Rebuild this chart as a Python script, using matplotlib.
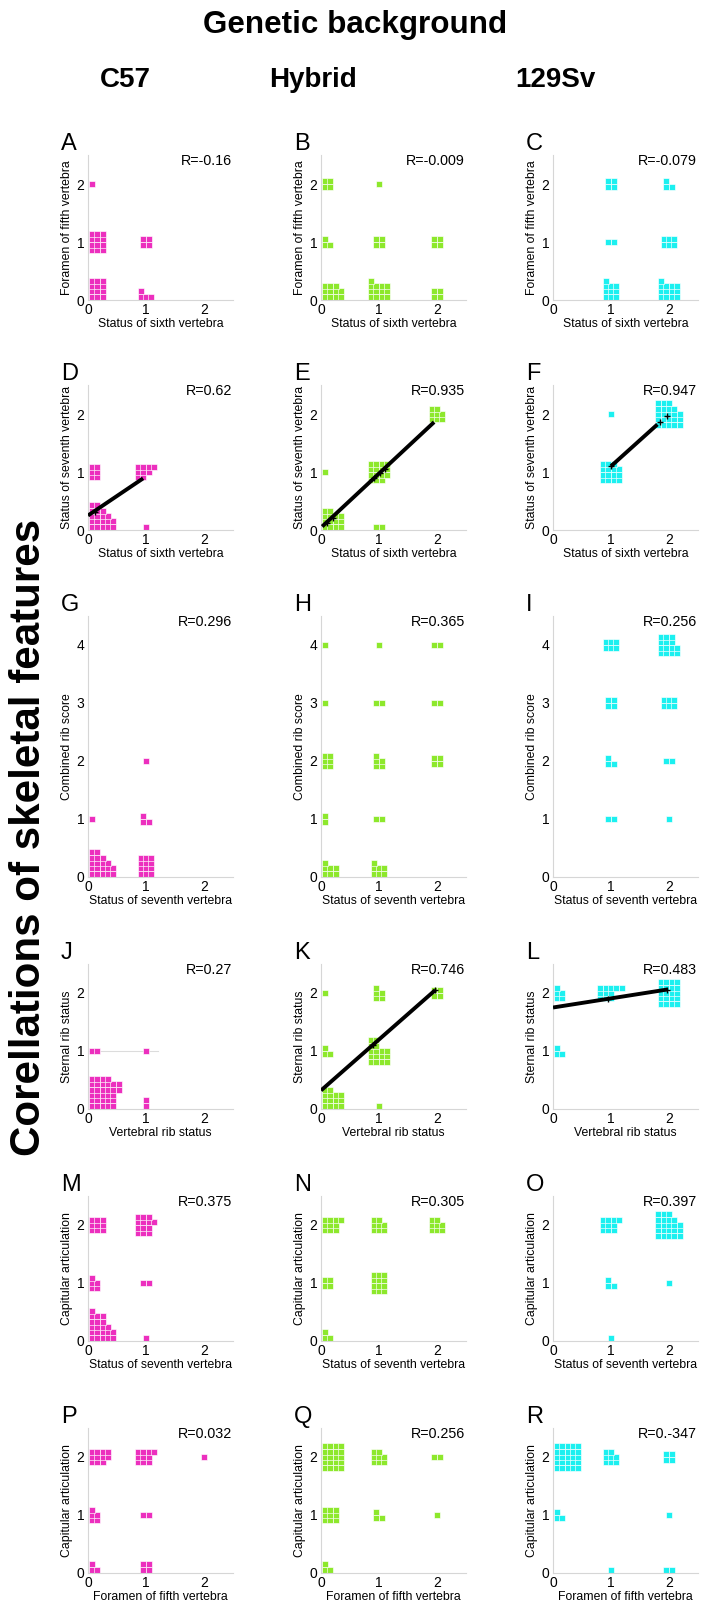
import matplotlib
matplotlib.use('Agg')
import matplotlib.pyplot as plt
from matplotlib import font_manager as fm


def has_font(name):
    try:
        fm.findfont(fm.FontProperties(family=name), fallback_to_default=False)
        return True
    except Exception:
        return False


if has_font('Liberation Sans Narrow'):
    FONT, K = 'Liberation Sans Narrow', 1.0
else:
    FONT, K = 'Liberation Sans', 0.82
plt.rcParams['font.family'] = [FONT, 'DejaVu Sans']

# ---------------- data ----------------
columns = ['C57', 'Hybrid', '129Sv']
colors = ['#ec2fbe', '#8de82c', '#1cf0f0']
letters = list('ABCDEFGHIJKLMNOPQR')
row_xlabels = ['Status of sixth vertebra', 'Status of sixth vertebra',
               'Status of seventh vertebra', 'Vertebral rib status',
               'Status of seventh vertebra', 'Foramen of fifth vertebra']
row_ylabels = ['Foramen of fifth vertebra', 'Status of seventh vertebra',
               'Combined rib score', 'Sternal rib status',
               'Capitular articulation', 'Capitular articulation']
row_ymax = [2.5, 2.5, 4.5, 2.5, 2.5, 2.5]
r_values = ['-0.16', '-0.009', '-0.079', '0.62', '0.935', '0.947',
            '0.296', '0.365', '0.256', '0.27', '0.746', '0.483',
            '0.375', '0.305', '0.397', '0.032', '0.256', '0.-347']

# groups: (x value, y value, counts per stacked row from bottom)
A = [(0, 2, [1]), (0, 1, [3, 3, 3, 3]), (0, 0, [3, 3, 3, 3]), (1, 1, [2, 2]), (1, 0, [3, 1])]
B = [(0, 2, [2, 2]), (0, 1, [2, 1]), (0, 0, [4, 4, 3]), (1, 2, [1]), (1, 1, [2, 2]),
     (1, 0, [4, 4, 4, 1]), (2, 1, [2, 2]), (2, 0, [2, 2])]
C = [(1, 2, [2, 2]), (2, 2, [2, 1]), (1, 1, [2]), (2, 1, [3, 3]), (1, 0, [3, 3, 3, 1]),
     (2, 0, [4, 4, 4, 1])]
D = [(0, 1, [2, 2, 2]), (0, 0, [5, 5, 4, 3, 2]), (1, 1, [2, 3, 4]), (1, 0, [1])]
E = [(0, 1, [1]), (0, 0, [4, 4, 4, 2]), (1, 1, [3, 4, 4, 4]), (1, 0, [2]), (2, 2, [3, 3, 2])]
F = [(1, 2, [1]), (1, 1, [4, 4, 4, 3]), (2, 2, [5, 5, 5, 4, 3])]
G = [(0, 1, [1]), (0, 0, [5, 5, 4, 3, 2]), (1, 2, [1]), (1, 1, [2, 1]), (1, 0, [3, 3, 3, 3])]
H = [(0, 4, [1]), (1, 4, [1]), (2, 4, [2]), (0, 3, [1]), (1, 3, [2]), (2, 3, [2]),
     (0, 2, [2, 2, 2]), (1, 2, [2, 2, 1]), (2, 2, [2, 2]), (0, 1, [1, 1]), (1, 1, [2]),
     (0, 0, [3, 3, 1]), (1, 0, [3, 3, 1])]
I = [(1, 4, [3, 3]), (2, 4, [4, 4, 3, 3]), (1, 3, [2, 2]), (2, 3, [3, 3]), (1, 2, [2, 1]),
     (2, 2, [2]), (1, 1, [2]), (2, 1, [1])]
J = [(0, 1, [2]), (1, 1, [1]), (0, 0, [5, 5, 5, 6, 6, 4]), (1, 0, [1, 1])]
Kp = [(0, 2, [1]), (1, 2, [2, 2, 1]), (2, 2, [2, 2]), (0, 1, [2, 1]), (1, 1, [4, 4, 4, 2, 2]),
      (1, 0, [1]), (0, 0, [4, 4, 4, 2])]
L = [(0, 2, [2, 2, 1]), (1, 2, [3, 3, 5]), (2, 2, [4, 4, 4, 4, 4]), (0, 1, [2, 1])]
M = [(0, 2, [3, 3, 3]), (1, 2, [3, 3, 4, 3]), (0, 1, [2, 2, 1]), (1, 1, [2]),
     (0, 0, [5, 5, 4, 3, 3, 1]), (1, 0, [1])]
N = [(0, 2, [3, 3, 4]), (1, 2, [3, 3, 2]), (2, 2, [3, 3, 2]), (0, 1, [2, 2]),
     (1, 1, [3, 3, 3, 3]), (0, 0, [2, 1])]
O = [(1, 2, [3, 3, 4]), (2, 2, [5, 5, 5, 4, 3]), (1, 1, [2, 1]), (2, 1, [1]), (1, 0, [1])]
P = [(0, 2, [3, 4, 4]), (1, 2, [3, 3, 4]), (2, 2, [1]), (0, 1, [2, 2, 1]), (1, 1, [2]),
     (0, 0, [2, 1]), (1, 0, [2, 2])]
Q = [(0, 2, [4, 4, 4, 4, 4]), (1, 2, [3, 3, 2]), (2, 2, [2]), (0, 1, [3, 3, 3]),
     (1, 1, [2, 1]), (2, 1, [1]), (0, 0, [2, 1])]
R = [(0, 2, [5, 5, 5, 5, 5]), (1, 2, [3, 3, 2]), (2, 2, [2, 2]), (0, 1, [2, 1]),
     (2, 1, [1]), (1, 0, [1]), (2, 0, [2])]
panel_groups = [A, B, C, D, E, F, G, H, I, J, Kp, L, M, N, O, P, Q, R]

# fitted lines (x endpoints, y endpoints) and marked means
fit_lines = {
    'D': ([0.0, 0.95], [0.25, 0.89]),
    'E': ([0.02, 1.95], [0.06, 1.86]),
    'F': ([1.0, 1.8], [1.1, 1.82]),
    'K': ([0.0, 1.97], [0.32, 2.05]),
    'L': ([0.0, 1.97], [1.75, 2.06]),
}
fit_marks = {
    'D': [(0.12, 0.31)],
    'E': [(0.1, 0.12), (0.2, 0.21), (0.92, 0.89), (1.01, 0.98), (1.1, 1.06)],
    'F': [(1.0, 1.1), (1.85, 1.87), (1.97, 1.97)],
    'K': [(0.9, 1.11), (1.97, 2.05)],
    'L': [(0.95, 1.9), (1.97, 2.06)],
}
flat_lines = {'J': ([0.0, 1.2], [1.0, 1.0])}

# ---------------- layout ----------------
W, Hh = 701, 1600
fig = plt.figure(figsize=(W / 100, Hh / 100), dpi=100)

col_left = [88, 321, 553]
row_bottom = [300, 530, 877, 1109, 1341, 1573]
unit = 58.0
STEP = 0.092


def square_positions(x, y, rows):
    xs, ys = [], []
    ncols, nrows = max(rows), len(rows)
    for r, n in enumerate(rows):
        for c in range(n):
            px = 0.07 + c * STEP if x == 0 else x + (c - (ncols - 1) / 2) * STEP
            py = 0.06 + r * STEP if y == 0 else y + (r - (nrows - 1) / 2) * STEP
            xs.append(px)
            ys.append(py)
    return xs, ys


for i, letter in enumerate(letters):
    row, col = divmod(i, 3)
    ymax = row_ymax[row]
    wpx = 2.5 * unit
    hpx = ymax * unit
    ax = fig.add_axes([col_left[col] / W, 1 - row_bottom[row] / Hh, wpx / W, hpx / Hh])
    ax.set_xlim(0, 2.5)
    ax.set_ylim(0, ymax)
    for s in ['top', 'right']:
        ax.spines[s].set_visible(False)
    for s in ['left', 'bottom']:
        ax.spines[s].set_color('#d6d6d6')
        ax.spines[s].set_linewidth(0.8)
    ax.set_xticks([0, 1, 2])
    ax.set_yticks(list(range(int(ymax) + 1)))
    ax.tick_params(length=0, labelsize=10, pad=2.5)
    ax.set_xlabel(row_xlabels[row], fontsize=10.8 * K, labelpad=0.5)
    ax.set_ylabel(row_ylabels[row], fontsize=10.8 * K, labelpad=2.5)

    if letter in flat_lines:
        lx, ly = flat_lines[letter]
        ax.plot(lx, ly, color='#dcdcdc', lw=0.8, zorder=1)

    xs, ys = [], []
    for gx, gy, rows in panel_groups[i]:
        px, py = square_positions(gx, gy, rows)
        xs += px
        ys += py
    ax.scatter(xs, ys, marker='s', s=18, color=colors[col], edgecolors='white',
               linewidths=0.45, zorder=2, clip_on=False)

    if letter in fit_lines:
        lx, ly = fit_lines[letter]
        ax.plot(lx, ly, color='black', lw=2.8, solid_capstyle='butt', zorder=3)
        mx = [p[0] for p in fit_marks[letter]]
        my = [p[1] for p in fit_marks[letter]]
        ax.plot(mx, my, linestyle='none', marker='+', color='black', ms=5, mew=1.0, zorder=4)

    ax.annotate('R=' + r_values[i], xy=(1, 1), xycoords='axes fraction',
                xytext=(-1, 1), textcoords='offset pixels', ha='right', va='top',
                fontsize=12.5 * K)
    ax.annotate(letter, xy=(0, 1), xycoords='axes fraction',
                xytext=(-27, 5), textcoords='offset pixels', ha='left', va='baseline',
                fontsize=17)

fig.text(355 / W, 1 - 25 / Hh, 'Genetic background', ha='center', va='center',
         fontsize=27.5 * K, fontweight='bold')
header_x = [125, 313, 555]
for name, hx in zip(columns, header_x):
    fig.text(hx / W, 1 - 80 / Hh, name, ha='center', va='center',
             fontsize=20, fontweight='bold')
fig.text(29 / W, 1 - 837 / Hh, 'Corellations of skeletal features', rotation=90,
         ha='center', va='center', fontsize=37 * K, fontweight='bold')

fig.savefig('out.png', dpi=100, facecolor='white')
